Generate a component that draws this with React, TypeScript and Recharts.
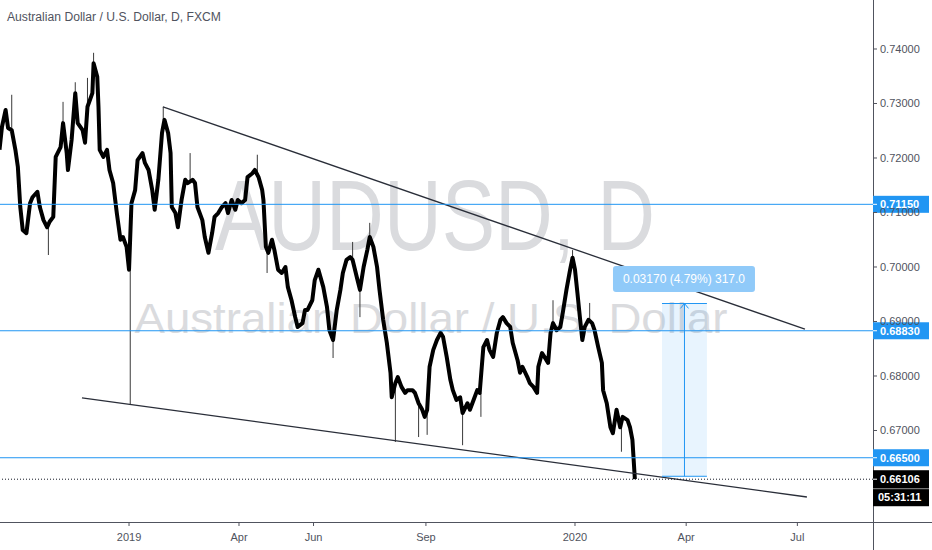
import React from "react"
import {
  ComposedChart,
  Line,
  XAxis,
  YAxis,
  ReferenceLine,
  ReferenceArea,
  ReferenceDot,
} from "recharts"

// days counted from 2019-01-01, closes
const days = [
  -106, -104, -101, -99, -96, -93, -91, -89, -87, -84, -81, -79, -75, -73, -70, -67, -65, -62, -60, -56,
  -54, -51, -50, -47, -44, -42, -38, -36, -34, -30, -29, -26, -25, -24, -21, -18, -16, -13, -10, -7,
  -5, -2, 0, 2, 5, 7, 11, 13, 16, 19, 21, 24, 27, 29, 32, 34, 35, 38, 40, 43,
  46, 48, 52, 54, 56, 60, 62, 65, 68, 70, 73, 76, 79, 81, 84, 87, 89, 92, 95, 97,
  101, 103, 106, 109, 110, 112, 114, 117, 119, 122, 125, 128, 130, 133, 136, 138, 142, 144, 146, 150,
  152, 155, 159, 162, 164, 167, 170, 173, 175, 178, 181, 183, 187, 189, 192, 195, 197, 200, 203, 205,
  208, 211, 214, 215, 218, 220, 223, 226, 228, 232, 234, 237, 240, 242, 244, 246, 249, 252, 255, 257,
  260, 263, 265, 268, 271, 273, 277, 279, 282, 285, 287, 290, 293, 295, 298, 301, 304, 306, 309, 312,
  314, 318, 320, 322, 326, 328, 331, 334, 335, 338, 340, 343, 345, 347, 350, 353, 355, 358, 361, 363,
  365, 367, 369, 371, 373, 376, 379, 381, 384, 387, 388, 391, 394, 396, 399, 402, 404, 408, 410, 412,
  414,
]

const closes = [
  0.7215, 0.7257, 0.7288, 0.7255, 0.7251, 0.7215, 0.7184, 0.711, 0.7068, 0.7062, 0.7117, 0.7128, 0.7138, 0.711, 0.7086, 0.7073, 0.7083, 0.7092, 0.7202, 0.722,
  0.7264, 0.7209, 0.7178, 0.7233, 0.7319, 0.7264, 0.7251, 0.7228, 0.7294, 0.7319, 0.7374, 0.7349, 0.7294, 0.7215, 0.7202, 0.7215, 0.7178, 0.7154, 0.7099, 0.705,
  0.7055, 0.7037, 0.6995, 0.7117, 0.7141, 0.7196, 0.7209, 0.7191, 0.7178, 0.7141, 0.7105, 0.716, 0.7246, 0.727, 0.7246, 0.7209, 0.711, 0.7099, 0.7073, 0.7123,
  0.716, 0.7154, 0.716, 0.7154, 0.711, 0.7086, 0.7055, 0.7026, 0.7062, 0.7092, 0.7099, 0.711, 0.7117, 0.7099, 0.7123, 0.7105, 0.7123, 0.7117, 0.7123, 0.7165,
  0.7172, 0.7178, 0.7165, 0.7141, 0.7123, 0.7037, 0.7026, 0.705, 0.7031, 0.6995, 0.6989, 0.7, 0.6963, 0.6939, 0.6908, 0.689, 0.6897, 0.6921, 0.6921, 0.6939,
  0.6976, 0.6995, 0.6963, 0.6927, 0.6884, 0.6866, 0.6921, 0.6958, 0.6989, 0.7013, 0.7018, 0.7013, 0.6976, 0.6958, 0.7, 0.7031, 0.7055, 0.7037, 0.7, 0.6958,
  0.6903, 0.6861, 0.6806, 0.6761, 0.6787, 0.6798, 0.678, 0.6769, 0.6774, 0.6774, 0.6769, 0.675, 0.6738, 0.6725, 0.6738, 0.6817, 0.6848, 0.6866, 0.6879, 0.6872,
  0.6835, 0.6793, 0.6774, 0.6756, 0.6761, 0.6732, 0.675, 0.6738, 0.6756, 0.6774, 0.6769, 0.6853, 0.6866, 0.6848, 0.6835, 0.6879, 0.6903, 0.6908, 0.6897, 0.689,
  0.6861, 0.6829, 0.6806, 0.6817, 0.6798, 0.6787, 0.678, 0.6769, 0.6817, 0.6842, 0.6835, 0.6824, 0.6879, 0.6897, 0.6884, 0.689, 0.6916, 0.6958, 0.6995, 0.7017,
  0.6995, 0.6952, 0.6908, 0.6866, 0.689, 0.6903, 0.6897, 0.6884, 0.6853, 0.6824, 0.6774, 0.675, 0.6706, 0.6695, 0.6738, 0.6706, 0.6725, 0.6719, 0.6706, 0.6683,
  0.66106,
]

// wicks that stick out of the price line
const wickDays = [-66, -29, 1, 28, 197, 218, 237, 244, 273, 363, -96, -54, -44, -34, 50, 105, 113, 167, 183, 189, 288, 347, 377, 403]
const wickHighs = [
  0.7073, 0.7393, 0.6995, 0.7294, 0.7081, 0.6787, 0.675, 0.6738, 0.6732, 0.7031,
  0.7316, 0.7303, 0.7339, 0.7347, 0.7209, 0.7206, 0.7037, 0.6866, 0.7046, 0.6958, 0.6769, 0.6939, 0.6934, 0.6706,
]
const wickLows = [
  0.7022, 0.7374, 0.6747, 0.727, 0.7055, 0.6679, 0.6688, 0.6692, 0.6673, 0.7017,
  0.7251, 0.7264, 0.7319, 0.7294, 0.716, 0.7165, 0.6989, 0.6833, 0.7013, 0.6908, 0.6725, 0.6897, 0.6903, 0.6661,
]

const tickDays = [0, 90, 151, 243, 365, 456, 547]
const tickLabels = ["2019", "Apr", "Jun", "Sep", "2020", "Apr", "Jul"]
const priceTicks = [0.67, 0.68, 0.69, 0.7, 0.71, 0.72, 0.73, 0.74]

const levelPrices = [0.7115, 0.6883, 0.665]
const lastPrice = 0.66106
const countdown = "05:31:11"

const upperTrendDays = [27.8, 553.2]
const upperTrendPrices = [0.7294, 0.6886]
const lowerTrendDays = [-38.5, 554.8]
const lowerTrendPrices = [0.676, 0.6578]

const measureDays = [436.2, 473]
const measurePrices = [0.6616, 0.6933]
const measureText = "0.03170 (4.79%) 317.0"

const data = days.map((d, i) => ({ day: d, close: closes[i] }))

const FONT = "'Liberation Sans', Arial, sans-serif"
const AXIS = "#50535e"
const BLUE = "#2196f3"
const LINE = "#2a2e39"

const PriceTag = (text: string, bg: string) => (props: any) => {
  const vb = props.viewBox
  const x = vb.x + vb.width
  const y = vb.y
  return (
    <g>
      <rect x={x} y={y - 8.5} width={56} height={17} fill={bg} />
      <line x1={x} x2={x + 4} y1={y} y2={y} stroke="#fff" />
      <text x={x + 7} y={y + 4} fill="#fff" fontSize={11} fontWeight="bold" fontFamily={FONT}>
        {text}
      </text>
    </g>
  )
}

const LastTag = (props: any) => {
  const vb = props.viewBox
  const x = vb.x + vb.width
  const y = vb.y
  return (
    <g>
      <rect x={x} y={y - 9} width={56} height={18} fill="#000" />
      <line x1={x} x2={x + 4} y1={y} y2={y} stroke="#fff" />
      <text x={x + 7} y={y + 4} fill="#fff" fontSize={11} fontWeight="bold" fontFamily={FONT}>
        {lastPrice.toFixed(5)}
      </text>
      <rect x={x} y={y + 9} width={56} height={18} fill="#000" />
      <line x1={x} x2={x + 56} y1={y + 9.5} y2={y + 9.5} stroke="#8a8a8a" />
      <text x={x + 5} y={y + 22} fill="#fff" fontSize={11} fontWeight="bold" fontFamily={FONT}>
        {countdown}
      </text>
    </g>
  )
}

const MeasureLabel = (props: any) => (
  <g>
    <rect x={props.cx - 71} y={props.cy - 13} width={142} height={26} rx={3} fill="#90caf9" />
    <text x={props.cx} y={props.cy + 4} textAnchor="middle" fill="#fff" fontSize={12} fontFamily={FONT}>
      {measureText}
    </text>
  </g>
)

export default function App() {
  const midDay = (measureDays[0] + measureDays[1]) / 2
  const arrowDx = 3.3
  const arrowDy = 0.0009

  return (
    <div style={{ position: "absolute", left: 0, top: 0, width: 932, height: 550, background: "#fff" }}>
      <svg width={932} height={550} style={{ position: "absolute", left: 0, top: 0 }}>
        <text x={7} y={21} fontSize={12.5} fill={AXIS} fontFamily={FONT} textLength={214} lengthAdjust="spacingAndGlyphs">
          Australian Dollar / U.S. Dollar, D, FXCM
        </text>
        <text x={435} y={250} fontSize={100} fill="#dadbde" fontFamily={FONT} textAnchor="middle" textLength={440} lengthAdjust="spacingAndGlyphs">
          AUDUSD, D
        </text>
        <text x={431} y={333} fontSize={43} fill="#dadbde" fontFamily={FONT} textAnchor="middle" textLength={593} lengthAdjust="spacingAndGlyphs">
          Australian Dollar / U.S. Dollar
        </text>
        <line x1={0} x2={932} y1={522.5} y2={522.5} stroke={AXIS} />
        <line x1={873.5} x2={873.5} y1={0} y2={550} stroke={AXIS} />
      </svg>
      <div style={{ position: "absolute", left: 0, top: 0 }}>
        <ComposedChart width={932} height={550} data={data} margin={{ top: 0, right: 0, bottom: 0, left: 0 }}>
          <XAxis
            dataKey="day"
            type="number"
            domain={[-105.6, 608.9]}
            allowDataOverflow
            ticks={tickDays}
            interval={0}
            tickFormatter={(v) => tickLabels[tickDays.indexOf(v)]}
            height={28}
            axisLine={false}
            tickLine={{ stroke: AXIS }}
            tickSize={4}
            tickMargin={7}
            tick={{ fill: AXIS, fontSize: 11, fontFamily: FONT }}
          />
          <YAxis
            orientation="right"
            type="number"
            domain={[0.65321, 0.74899]}
            allowDataOverflow
            ticks={priceTicks}
            interval={0}
            tickFormatter={(v) => v.toFixed(5)}
            width={59}
            axisLine={false}
            tickLine={{ stroke: AXIS }}
            tickSize={4}
            tickMargin={3}
            tick={{ fill: AXIS, fontSize: 11, fontFamily: FONT }}
          />

          <ReferenceArea
            x1={measureDays[0]}
            x2={measureDays[1]}
            y1={measurePrices[0]}
            y2={measurePrices[1]}
            fill={BLUE}
            fillOpacity={0.1}
            stroke="none"
          />

          {wickDays.map((d, i) => (
            <ReferenceLine
              key={"w" + i}
              segment={[
                { x: d, y: wickLows[i] },
                { x: d, y: wickHighs[i] },
              ]}
              stroke="#3a3a3a"
              strokeWidth={1}
            />
          ))}

          <Line
            dataKey="close"
            type="linear"
            stroke="#000"
            strokeWidth={4}
            strokeLinejoin="round"
            dot={false}
            isAnimationActive={false}
          />

          <ReferenceLine
            segment={[
              { x: upperTrendDays[0], y: upperTrendPrices[0] },
              { x: upperTrendDays[1], y: upperTrendPrices[1] },
            ]}
            stroke={LINE}
            strokeWidth={1.3}
          />
          <ReferenceLine
            segment={[
              { x: lowerTrendDays[0], y: lowerTrendPrices[0] },
              { x: lowerTrendDays[1], y: lowerTrendPrices[1] },
            ]}
            stroke={LINE}
            strokeWidth={1.3}
          />

          {measurePrices.map((p, i) => (
            <ReferenceLine
              key={"m" + i}
              segment={[
                { x: measureDays[0], y: p },
                { x: measureDays[1], y: p },
              ]}
              stroke={BLUE}
            />
          ))}
          <ReferenceLine
            segment={[
              { x: midDay, y: measurePrices[0] },
              { x: midDay, y: measurePrices[1] },
            ]}
            stroke={BLUE}
          />
          <ReferenceLine
            segment={[
              { x: midDay - arrowDx, y: measurePrices[1] - arrowDy },
              { x: midDay, y: measurePrices[1] },
            ]}
            stroke={BLUE}
          />
          <ReferenceLine
            segment={[
              { x: midDay + arrowDx, y: measurePrices[1] - arrowDy },
              { x: midDay, y: measurePrices[1] },
            ]}
            stroke={BLUE}
          />
          <ReferenceDot x={midDay - 0.4} y={0.6978} r={0} shape={MeasureLabel} />

          {levelPrices.map((p) => (
            <ReferenceLine key={p} y={p} stroke={BLUE} strokeWidth={1} label={PriceTag(p.toFixed(5), BLUE)} />
          ))}
          <ReferenceLine y={lastPrice} stroke="#131722" strokeDasharray="1 2" label={LastTag} />
        </ComposedChart>
      </div>
    </div>
  )
}
